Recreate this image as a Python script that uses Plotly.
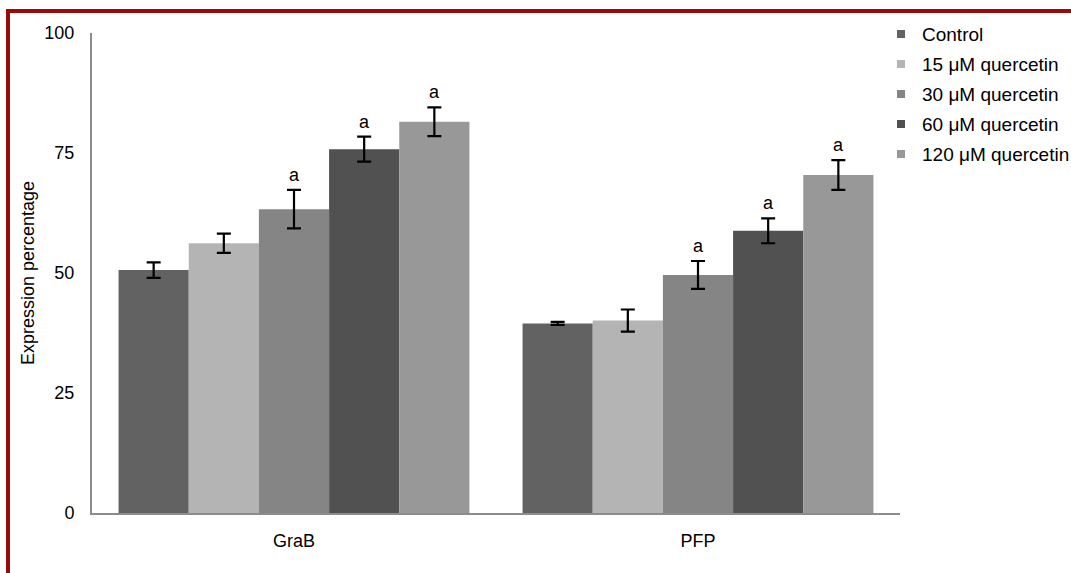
import plotly.graph_objects as go

# Data
categories = ["GraB", "PFP"]
series_names = ["Control", "15 μM quercetin", "30 μM quercetin", "60 μM quercetin", "120 μM quercetin"]
control = [50.6, 39.5]
q15 = [56.2, 40.1]
q30 = [63.3, 49.6]
q60 = [75.8, 58.8]
q120 = [81.5, 70.4]
err_control = [1.6, 0.3]
err_q15 = [2.0, 2.3]
err_q30 = [4.0, 2.9]
err_q60 = [2.6, 2.6]
err_q120 = [3.0, 3.1]
sig_control = ["", ""]
sig_q15 = ["", ""]
sig_q30 = ["a", "a"]
sig_q60 = ["a", "a"]
sig_q120 = ["a", "a"]
y_ticks = [0, 25, 50, 75, 100]

values = [control, q15, q30, q60, q120]
errors = [err_control, err_q15, err_q30, err_q60, err_q120]
sigs = [sig_control, sig_q15, sig_q30, sig_q60, sig_q120]
colors = ["#626262", "#b4b4b4", "#858585", "#515151", "#989898"]

W, H = 1071, 573
L, R, T, B = 92, 900, 33, 513
FONT = "Arial, Liberation Sans, sans-serif"


def px_x(px):
    return (px - L) / (R - L)


def px_y(py):
    return (B - py) / (B - T)


fig = go.Figure()
xpos = list(range(len(categories)))
group_frac = 0.8685
n = len(series_names)
bar_w = group_frac / n

for i, name in enumerate(series_names):
    fig.add_trace(go.Bar(
        x=xpos, y=values[i], name=name,
        marker=dict(color=colors[i], line=dict(width=0)),
        error_y=dict(type="data", array=errors[i], visible=True,
                     color="black", thickness=2.2, width=7),
        showlegend=False,
    ))
    off = (i - (n - 1) / 2) * bar_w
    for j, s in enumerate(sigs[i]):
        if s:
            fig.add_annotation(
                x=xpos[j] + off, y=values[i][j] + errors[i][j], text=s,
                showarrow=False, yanchor="bottom", yshift=3,
                font=dict(family=FONT, size=18, color="black"),
            )

# Legend drawn as squares and labels
for i, name in enumerate(series_names):
    cy = 34 + 30 * i
    fig.add_shape(type="rect", xref="paper", yref="paper",
                  x0=px_x(897), x1=px_x(905), y0=px_y(cy + 4), y1=px_y(cy - 4),
                  fillcolor=colors[i], line=dict(width=0))
    fig.add_annotation(xref="paper", yref="paper", x=px_x(920), y=px_y(cy),
                       xanchor="left", yanchor="middle", showarrow=False, text=name,
                       font=dict(family=FONT, size=19, color="black"))

# Dark red frame on the top and left edges
frame = "#9b0a0a"
fig.add_shape(type="rect", xref="paper", yref="paper",
              x0=px_x(6), x1=px_x(W + 5), y0=px_y(13), y1=px_y(9),
              fillcolor=frame, line=dict(width=0), layer="above")
fig.add_shape(type="rect", xref="paper", yref="paper",
              x0=px_x(6), x1=px_x(10), y0=px_y(H + 5), y1=px_y(9),
              fillcolor=frame, line=dict(width=0), layer="above")

fig.update_layout(
    width=W, height=H,
    margin=dict(l=L, r=W - R, t=T, b=H - B),
    paper_bgcolor="white", plot_bgcolor="white",
    barmode="group", bargap=1 - group_frac, bargroupgap=0,
    font=dict(family=FONT, size=18, color="black"),
    xaxis=dict(range=[-0.5, 1.5], tickvals=xpos, ticktext=categories,
               showgrid=False, zeroline=False, showline=True,
               linecolor="#8c8c8c", linewidth=2, ticks="", ticklabelstandoff=10,
               tickfont=dict(family=FONT, size=18)),
    yaxis=dict(range=[0, 100], tickvals=y_ticks, showgrid=False, zeroline=False,
               showline=True, linecolor="#8c8c8c", linewidth=2, ticks="",
               ticklabelstandoff=12,
               title=dict(text="Expression percentage", standoff=5,
                          font=dict(family=FONT, size=18)),
               tickfont=dict(family=FONT, size=18)),
)

fig.write_html("out.html")
